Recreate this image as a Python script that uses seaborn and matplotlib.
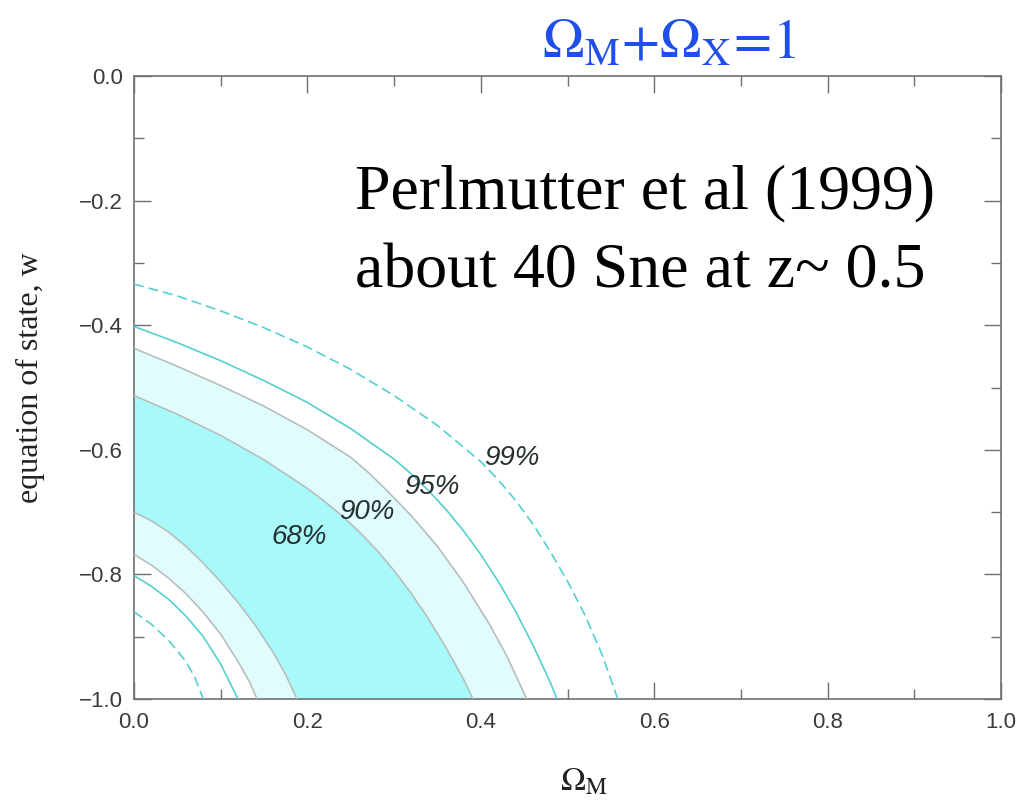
import numpy as np
import pandas as pd
import matplotlib
matplotlib.use("Agg")
import matplotlib.pyplot as plt
import seaborn as sns

# ---- contour data (Omega_M, w) ----
om_99_out = [0.000, 0.050, 0.100, 0.150, 0.200, 0.250, 0.300, 0.350, 0.400, 0.420, 0.440,
             0.460, 0.480, 0.500, 0.520, 0.540, 0.558]
w_99_out = [-0.334, -0.353, -0.377, -0.404, -0.435, -0.471, -0.513, -0.561, -0.619, -0.648,
            -0.681, -0.719, -0.763, -0.811, -0.865, -0.929, -1.000]
om_95_out = [0.000, 0.050, 0.100, 0.150, 0.200, 0.250, 0.300, 0.320, 0.340, 0.360, 0.380,
             0.400, 0.420, 0.440, 0.460, 0.480, 0.488]
w_95_out = [-0.402, -0.428, -0.457, -0.489, -0.524, -0.566, -0.615, -0.639, -0.666, -0.696,
            -0.730, -0.768, -0.811, -0.859, -0.913, -0.973, -1.000]
om_90_out = [0.000, 0.050, 0.100, 0.150, 0.200, 0.250, 0.270, 0.290, 0.320, 0.350, 0.380,
             0.410, 0.430, 0.453]
w_90_out = [-0.437, -0.466, -0.497, -0.530, -0.568, -0.612, -0.636, -0.663, -0.706, -0.755,
            -0.813, -0.880, -0.931, -1.000]
om_68_out = [0.000, 0.050, 0.100, 0.150, 0.200, 0.220, 0.240, 0.260, 0.280, 0.300, 0.320,
             0.340, 0.360, 0.380, 0.391]
w_68_out = [-0.513, -0.543, -0.577, -0.616, -0.662, -0.683, -0.706, -0.732, -0.761, -0.794,
            -0.831, -0.872, -0.918, -0.968, -1.000]
om_68_in = [0.000, 0.020, 0.040, 0.060, 0.080, 0.100, 0.120, 0.140, 0.160, 0.175, 0.188]
w_68_in = [-0.700, -0.714, -0.732, -0.755, -0.782, -0.812, -0.845, -0.882, -0.924, -0.961, -1.000]
om_90_in = [0.000, 0.020, 0.040, 0.060, 0.080, 0.100, 0.120, 0.133, 0.142]
w_90_in = [-0.768, -0.785, -0.806, -0.831, -0.861, -0.896, -0.940, -0.972, -1.000]
om_95_in = [0.000, 0.020, 0.040, 0.060, 0.080, 0.100, 0.120]
w_95_in = [-0.802, -0.819, -0.840, -0.867, -0.900, -0.944, -1.000]
om_99_in = [0.000, 0.020, 0.040, 0.060, 0.070, 0.080]
w_99_in = [-0.860, -0.880, -0.906, -0.940, -0.965, -1.000]

level_labels = ["68%", "90%", "95%", "99%"]
label_om = [0.191, 0.268, 0.343, 0.436]
label_w = [-0.740, -0.700, -0.659, -0.613]

x_ticks = [0.0, 0.2, 0.4, 0.6, 0.8, 1.0]
y_ticks = [0.0, -0.2, -0.4, -0.6, -0.8, -1.0]

# ---- style ----
sns.set_theme(style="ticks")
plt.rcParams["font.family"] = ["Liberation Sans", "DejaVu Sans"]
plt.rcParams["mathtext.fontset"] = "stix"
plt.rcParams["lines.dashed_pattern"] = [6, 3]

DARK = "#a8fafa"
LIGHT = "#e0fcfc"
GRAY = "#b6bebe"
CYAN = "#55cfcf"

fig = plt.figure(figsize=(10.36, 8.01), dpi=100)
ax = fig.add_axes([134 / 1036, 1 - 699 / 801, (1001 - 134) / 1036, (699 - 76) / 801])
ax.set_facecolor("white")

# filled regions
ax.fill(np.r_[om_90_out, om_90_in[::-1]], np.r_[w_90_out, w_90_in[::-1]], color=LIGHT, lw=0, zorder=1)
ax.fill(np.r_[om_68_out, om_68_in[::-1]], np.r_[w_68_out, w_68_in[::-1]], color=DARK, lw=0, zorder=2)

curves = [
    (om_68_out, w_68_out, GRAY, "-"), (om_68_in, w_68_in, GRAY, "-"),
    (om_90_out, w_90_out, GRAY, "-"), (om_90_in, w_90_in, GRAY, "-"),
    (om_95_out, w_95_out, CYAN, "-"), (om_95_in, w_95_in, CYAN, "-"),
    (om_99_out, w_99_out, CYAN, "--"), (om_99_in, w_99_in, CYAN, "--"),
]
for xs, ys, col, ls in curves:
    df = pd.DataFrame({"om": xs, "w": ys})
    sns.lineplot(data=df, x="om", y="w", sort=False, estimator=None, color=col,
                 linestyle=ls, linewidth=1.2, ax=ax, zorder=3)

for lab, lx, ly in zip(level_labels, label_om, label_w):
    ax.text(lx, ly, lab, fontsize=20, style="italic", color="#263030",
            ha="center", va="center", zorder=4)

ax.set_xlim(0, 1)
ax.set_ylim(-1, 0)
ax.set_xticks(x_ticks)
ax.set_yticks(y_ticks)
ax.set_xticks(np.arange(0.1, 1.0, 0.2), minor=True)
ax.set_yticks(-np.arange(0.1, 1.0, 0.2), minor=True)
ax.set_xticklabels([f"{v:.1f}" for v in x_ticks])
ax.set_yticklabels([f"{v:.1f}".replace("-", "\u2212") for v in y_ticks])
ax.tick_params(which="both", direction="in", top=True, right=True, color="#707070",
               labelcolor="#3a3a3a", labelsize=16, width=1.0)
ax.tick_params(which="major", length=12)
ax.tick_params(which="minor", length=7)
ax.tick_params(axis="x", pad=9)
ax.tick_params(axis="y", pad=8)
for s in ax.spines.values():
    s.set_color("#707070")
    s.set_linewidth(1.2)
ax.set_xlabel("")
ax.set_ylabel("")

# texts
fig.text(30 / 1036, 1 - 378 / 801, "equation of state, w", family="Liberation Serif",
         fontsize=23, rotation=90, ha="center", va="center", color="#222222")
fig.text(584 / 1036, 1 - 782 / 801, r"$\Omega_{\mathrm{M}}$", fontsize=24,
         ha="center", va="center", color="#222222")
fig.text(669 / 1036, 1 - 58 / 801,
         r"$\Omega_{\mathrm{M}}{+}\Omega_{\mathrm{X}}\!{=}\!1$", fontsize=40,
         ha="center", va="baseline", color="#1f4fe8")
fig.text(355 / 1036, 1 - 208 / 801, "Perlmutter et al (1999)", family="Liberation Serif",
         fontsize=46, va="baseline", color="black")
fig.text(355 / 1036, 1 - 287 / 801, "about 40 Sne at z~ 0.5", family="Liberation Serif",
         fontsize=46, va="baseline", color="black")

fig.savefig("out.png", dpi=100, facecolor="white")
